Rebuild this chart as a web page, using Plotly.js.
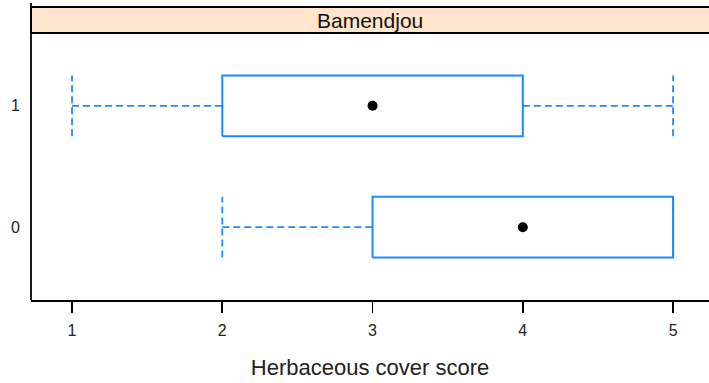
<!DOCTYPE html>
<html><head><meta charset="utf-8">
<script src="https://cdn.plot.ly/plotly-3.0.1.min.js"></script>
<style>html,body{margin:0;padding:0;background:#fff;}#chart{width:709px;height:383px;}</style>
</head><body><div id="chart"></div>
<script>
const groups = ['0', '1'];
const groupPos = [1, 2];
const lowerWhisker = [2, 1];
const q1 = [3, 2];
const median = [4, 3];
const q3 = [5, 4];
const upperWhisker = [5, 5];
const xTicks = [1, 2, 3, 4, 5];
const panelTitle = 'Bamendjou';
const xTitle = 'Herbaceous cover score';

const blue = '#1a8cff';
const hh = 0.25;
const traces = [];
groups.forEach((g, i) => {
  const p = groupPos[i];
  traces.push({type:'scatter', mode:'lines', hoverinfo:'skip', showlegend:false,
    x:[lowerWhisker[i], q1[i], null, q3[i], upperWhisker[i]],
    y:[p, p, null, p, p],
    line:{color:blue, width:1.8, dash:'7px,4px'}});
  traces.push({type:'scatter', mode:'lines', hoverinfo:'skip', showlegend:false,
    x:[lowerWhisker[i], lowerWhisker[i], null, upperWhisker[i], upperWhisker[i]],
    y:[p-hh, p+hh, null, p-hh, p+hh],
    line:{color:blue, width:1.8, dash:'7px,4px'}});
  traces.push({type:'scatter', mode:'lines', hoverinfo:'skip', showlegend:false,
    x:[q1[i], q3[i], q3[i], q1[i], q1[i]],
    y:[p-hh, p-hh, p+hh, p+hh, p-hh],
    line:{color:blue, width:2}});
  traces.push({type:'scatter', mode:'markers', hoverinfo:'skip', showlegend:false,
    x:[median[i]], y:[p],
    marker:{color:'black', size:10}});
});

const plotH = 383 - 33 - 83;
const stripH = 26 / plotH;
const layout = {
  width:709, height:383,
  margin:{l:31, r:0, t:33, b:83},
  paper_bgcolor:'#fff', plot_bgcolor:'#fff',
  font:{family:'Liberation Sans, Arial, sans-serif', color:'#222'},
  xaxis:{range:[0.727, 5.239], tickvals:xTicks, ticktext:xTicks.map(String),
    showgrid:false, zeroline:false, showline:true, linecolor:'#000', linewidth:1.8,
    ticks:'outside', ticklen:11, tickwidth:1.8, tickcolor:'#000',
    tickfont:{size:16, color:'#222'}, ticklabelstandoff:4,
    title:{text:xTitle, font:{size:22, color:'#222'}, standoff:21}},
  yaxis:{range:[0.4, 2.6], tickvals:groupPos, ticktext:groups,
    showgrid:false, zeroline:false, showline:false,
    ticks:'', tickfont:{size:16, color:'#222'}, ticklabelstandoff:10},
  shapes:[
    {type:'rect', xref:'paper', yref:'paper', x0:0, x1:1.01, y0:1, y1:1+stripH,
      fillcolor:'#ffe5cc', line:{color:'#000', width:1.8}, layer:'below'},
    {type:'line', xref:'paper', yref:'paper', x0:0, x1:0, y0:0, y1:1+stripH+4/plotH,
      line:{color:'#000', width:1.8}}
  ],
  annotations:[
    {xref:'paper', yref:'paper', x:0.5, y:1+stripH/2, text:panelTitle, showarrow:false,
      xanchor:'center', yanchor:'middle', font:{size:21, color:'#111'}}
  ]
};
Plotly.newPlot('chart', traces, layout, {displayModeBar:false, staticPlot:true});
</script></body></html>
